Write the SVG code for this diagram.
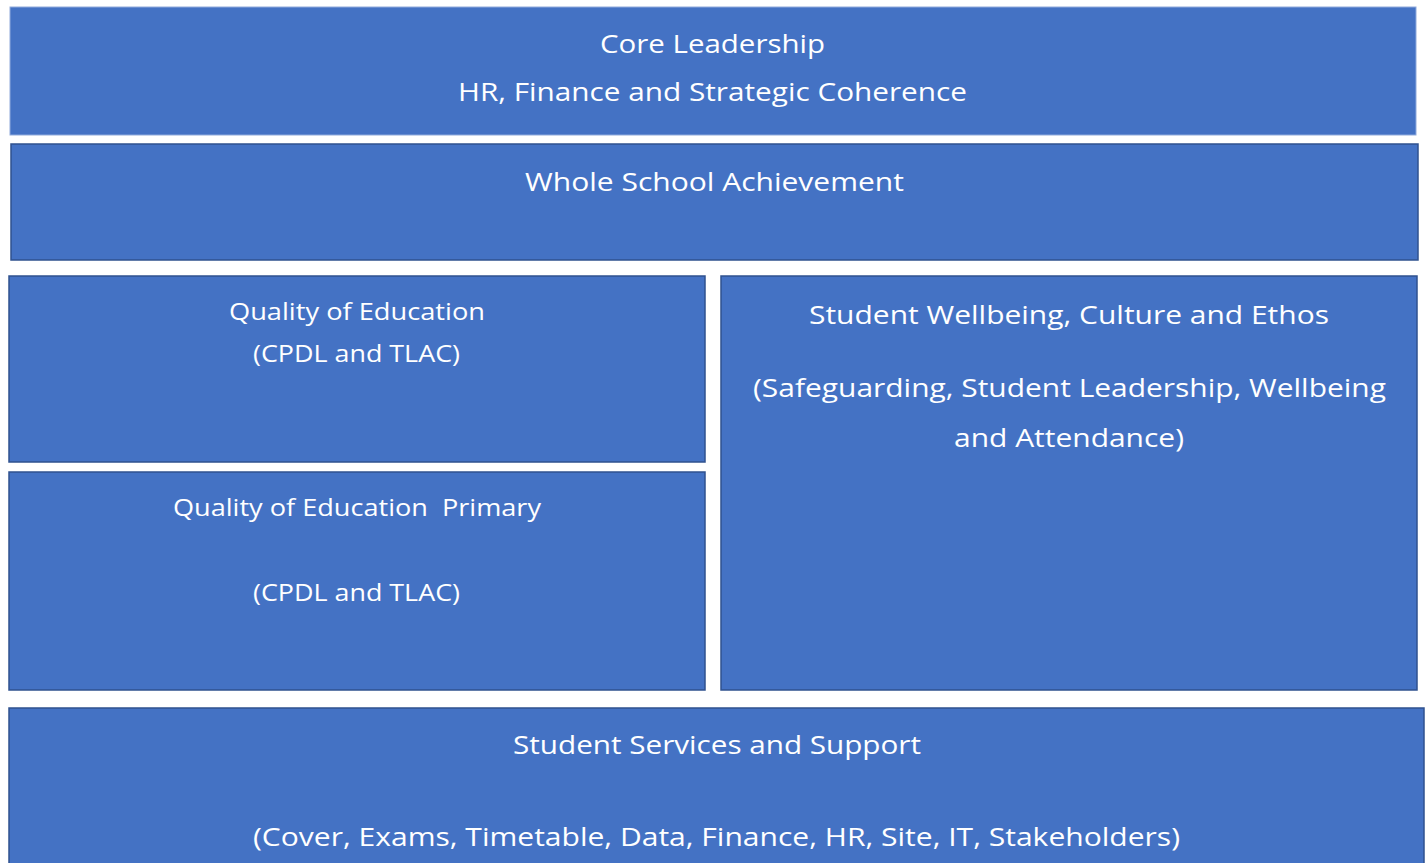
<svg xmlns="http://www.w3.org/2000/svg" width="1425" height="863" viewBox="0 0 1425 863">
<style>
.box{fill:#4472C4;stroke:#2F528F;stroke-width:1.5}
.box0{fill:#4472C4;stroke:#8FAADC;stroke-width:1}
.t{fill:#FFFFFF;font-family:"Open Sans","Liberation Sans",sans-serif;text-anchor:middle}
.l{font-size:26px}
.m{font-size:24.5px}
</style>
<rect width="1425" height="863" fill="#FFFFFF"/>
<g id="core-leadership">
<rect class="box0" x="10" y="7" width="1406" height="128"/>
<text class="t l" x="712.5" y="53" textLength="225" lengthAdjust="spacingAndGlyphs">Core Leadership</text>
<text class="t l" x="712.5" y="101" textLength="509" lengthAdjust="spacingAndGlyphs">HR, Finance and Strategic Coherence</text>
</g>
<g id="whole-school">
<rect class="box" x="11" y="144" width="1407" height="116"/>
<text class="t l" x="714.5" y="191" textLength="379" lengthAdjust="spacingAndGlyphs">Whole School Achievement</text>
</g>
<g id="quality-education">
<rect class="box" x="9" y="276" width="696" height="186"/>
<text class="t m" x="357" y="320" textLength="256" lengthAdjust="spacingAndGlyphs">Quality of Education</text>
<text class="t m" x="356.5" y="362" textLength="207" lengthAdjust="spacingAndGlyphs">(CPDL and TLAC)</text>
</g>
<g id="quality-education-primary">
<rect class="box" x="9" y="472" width="696" height="218"/>
<text class="t m" x="357" y="516" textLength="368" lengthAdjust="spacingAndGlyphs" xml:space="preserve">Quality of Education  Primary</text>
<text class="t m" x="356.5" y="601" textLength="207" lengthAdjust="spacingAndGlyphs">(CPDL and TLAC)</text>
</g>
<g id="student-wellbeing">
<rect class="box" x="721" y="276" width="696" height="414"/>
<text class="t l" x="1069" y="324" textLength="520" lengthAdjust="spacingAndGlyphs">Student Wellbeing, Culture and Ethos</text>
<text class="t l" x="1069.5" y="397" textLength="633" lengthAdjust="spacingAndGlyphs">(Safeguarding, Student Leadership, Wellbeing</text>
<text class="t l" x="1069" y="447" textLength="230" lengthAdjust="spacingAndGlyphs">and Attendance)</text>
</g>
<g id="student-services">
<rect class="box" x="9" y="708" width="1415" height="165"/>
<text class="t l" x="717" y="754" textLength="408" lengthAdjust="spacingAndGlyphs">Student Services and Support</text>
<text class="t l" x="716.5" y="846" textLength="927" lengthAdjust="spacingAndGlyphs">(Cover, Exams, Timetable, Data, Finance, HR, Site, IT, Stakeholders)</text>
</g>
<g id="connectors"/>
</svg>
